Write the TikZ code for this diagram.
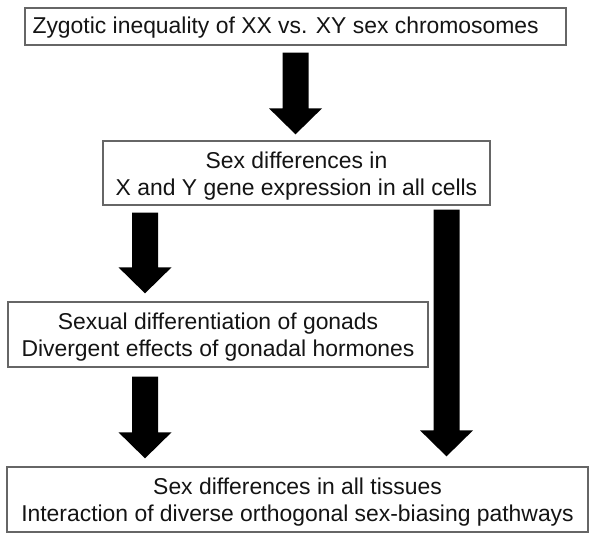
\documentclass[tikz,border=0pt]{standalone}
\usepackage{fontspec}
\setmainfont{Liberation Sans}
\usetikzlibrary{calc}
\tikzset{
  box/.style={draw=black!60, line width=1.3pt, fill=white, inner sep=0pt},
  txt/.style={inner sep=0pt, align=center, font=\fontsize{22.9pt}{27pt}\selectfont, text=black!92},
}
\newcommand\blockarrow[2]{%
  \fill[black] let \p1=(#1), \p2=(#2) in
    (\x1-13pt,\y1) -- (\x1+13pt,\y1) -- (\x1+13pt,\y2+26pt) -- (\x1+26.5pt,\y2+26pt)
    -- (\x1,\y2) -- (\x1-26.5pt,\y2+26pt) -- (\x1-13pt,\y2+26pt) -- cycle;}
\begin{document}
\begin{tikzpicture}[x=1pt,y=-1pt]
\useasboundingbox (0,0) rectangle (593,540);
\node[box, minimum width=541pt, minimum height=37pt] (b1) at (295.5,26.5) {};
\node[txt, anchor=west] (b1t) at ($(b1.west)+(8,1)$)
  {Zygotic inequality of XX vs. XY sex chromosomes};
\node[box, minimum width=387pt, minimum height=64pt] (b2) at (296.5,173) {};
\node[txt] (b2t) at ($(b2.center)+(0,3)$)
  {Sex differences in\\X and Y gene expression in all cells};
\node[box, minimum width=420pt, minimum height=65pt] (b3) at (218,334.5) {};
\node[txt] (b3t) at ($(b3.center)+(0,3)$)
  {Sexual differentiation of gonads\\Divergent effects of gonadal hormones};
\node[box, minimum width=581pt, minimum height=65pt] (b4) at (297.5,499.5) {};
\node[txt] (b4t) at ($(b4.center)+(0,3)$)
  {Sex differences in all tissues\\Interaction of diverse orthogonal sex-biasing pathways};
\coordinate (xa) at (295.5,0);
\coordinate (xl) at (145,0);
\coordinate (xr) at (446.5,0);
\coordinate (a1s) at ($(b1.south -| xa)+(0,7)$);
\coordinate (a1e) at ($(b2.north -| xa)+(0,-6)$);
\coordinate (a2s) at ($(b2.south -| xl)+(0,7)$);
\coordinate (a2e) at ($(b3.north -| xl)+(0,-8)$);
\coordinate (a3s) at ($(b3.south -| xl)+(0,9)$);
\coordinate (a3e) at ($(b4.north -| xl)+(0,-8)$);
\coordinate (a4s) at ($(b2.south -| xr)+(0,4)$);
\coordinate (a4e) at ($(b4.north -| xr)+(0,-10)$);
\blockarrow{a1s}{a1e}
\blockarrow{a2s}{a2e}
\blockarrow{a3s}{a3e}
\blockarrow{a4s}{a4e}
\end{tikzpicture}
\end{document}
